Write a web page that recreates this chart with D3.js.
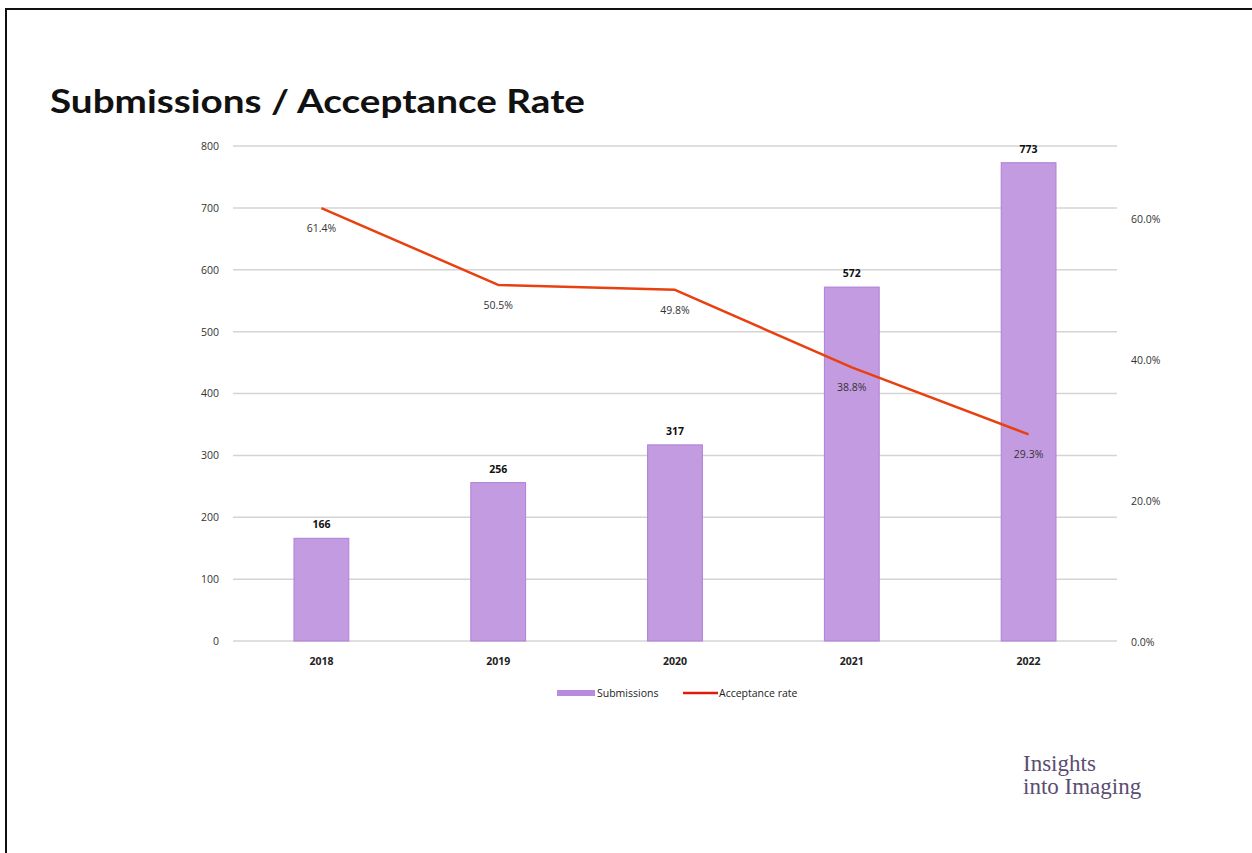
<!DOCTYPE html>
<html><head><meta charset="utf-8">
<script src="https://cdn.jsdelivr.net/npm/d3@7"></script>
<style>
html,body{margin:0;padding:0;background:#fff;}
svg{display:block;}
</style></head>
<body>
<svg id="chart" width="1252" height="853"></svg>
<script>
const years = ["2018","2019","2020","2021","2022"];
const submissions = [166, 256, 317, 572, 773];
const acceptanceRate = [61.4, 50.5, 49.8, 38.8, 29.3];
const leftTicks = [0,100,200,300,400,500,600,700,800];
const rightTicks = [0,20,40,60];
const title = "Submissions / Acceptance Rate";
const legendLabels = ["Submissions","Acceptance rate"];
const logoLines = ["Insights","into Imaging"];

(function(){
const svg = d3.select("#chart");
const pLeft = 233, pRight = 1117, pTop = 146, pBottom = 641;

// frame
svg.append("line").attr("x1",5).attr("x2",1252).attr("y1",9).attr("y2",9).attr("stroke","#111").attr("stroke-width",2);
svg.append("line").attr("x1",6).attr("x2",6).attr("y1",8).attr("y2",853).attr("stroke","#111").attr("stroke-width",2);

svg.append("text").attr("x",50).attr("y",113).text(title)
  .attr("font-family","Lato, sans-serif").attr("font-weight","700").attr("font-size",33)
  .attr("fill","#111").attr("textLength",535).attr("lengthAdjust","spacingAndGlyphs");

const x = d3.scaleBand().domain(years).range([pLeft,pRight]).paddingInner(0.69).paddingOuter(0.345);
const y = d3.scaleLinear().domain([0,800]).range([pBottom,pTop]);
const y2 = d3.scaleLinear().domain([0,70.2]).range([pBottom,pTop]);

// gridlines
svg.append("g").selectAll("line").data(leftTicks).join("line")
  .attr("x1",pLeft).attr("x2",pRight).attr("y1",d=>y(d)).attr("y2",d=>y(d))
  .attr("stroke","#d4d4d4").attr("stroke-width",1.5);

// left axis
const ga = svg.append("g").attr("transform",`translate(${pLeft},0)`)
  .call(d3.axisLeft(y).tickValues(leftTicks).tickSize(0).tickPadding(14));
ga.select(".domain").remove();
ga.selectAll("text").attr("font-family","Open Sans, sans-serif").attr("font-size",10.5).attr("fill","#333");

// right axis
const gr = svg.append("g").attr("transform",`translate(${pRight},0)`)
  .call(d3.axisRight(y2).tickValues(rightTicks).tickSize(0).tickPadding(14).tickFormat(d=>d.toFixed(1)+"%"));
gr.select(".domain").remove();
gr.selectAll("text").attr("font-family","Open Sans, sans-serif").attr("font-size",10.5).attr("fill","#333").attr("dy","0.42em");

// x axis labels
const gx = svg.append("g").attr("transform",`translate(0,${pBottom})`)
  .call(d3.axisBottom(x).tickSize(0).tickPadding(17));
gx.select(".domain").remove();
gx.selectAll("text").attr("font-family","Open Sans, sans-serif").attr("font-size",10.5).attr("font-weight","700").attr("fill","#222");

// bars
const data = years.map((yr,i)=>({yr, s:submissions[i], r:acceptanceRate[i]}));
svg.append("g").selectAll("rect").data(data).join("rect")
  .attr("x",d=>x(d.yr)).attr("width",x.bandwidth())
  .attr("y",d=>y(d.s)).attr("height",d=>pBottom-y(d.s))
  .attr("fill","#c39be0").attr("stroke","#b07fd8").attr("stroke-width",1);

svg.append("g").selectAll("text").data(data).join("text")
  .attr("x",d=>x(d.yr)+x.bandwidth()/2).attr("y",d=>y(d.s)-10)
  .attr("text-anchor","middle").text(d=>d.s)
  .attr("font-family","Open Sans, sans-serif").attr("font-size",10.5).attr("font-weight","700").attr("fill","#111");

// line
const line = d3.line().x(d=>x(d.yr)+x.bandwidth()/2).y(d=>y2(d.r));
svg.append("path").datum(data).attr("d",line).attr("fill","none")
  .attr("stroke","#e8400f").attr("stroke-width",2.5).attr("stroke-linejoin","round");

svg.append("g").selectAll("text").data(data).join("text")
  .attr("x",d=>x(d.yr)+x.bandwidth()/2).attr("y",d=>y2(d.r)+24)
  .attr("text-anchor","middle").text(d=>d.r.toFixed(1)+"%")
  .attr("font-family","Open Sans, sans-serif").attr("font-size",10.5).attr("fill","#333");

// legend
const lg = svg.append("g");
lg.append("rect").attr("x",557).attr("y",690).attr("width",38).attr("height",6).attr("fill","#b98bdf");
lg.append("text").attr("x",597).attr("y",697).text(legendLabels[0])
  .attr("font-family","Open Sans, sans-serif").attr("font-size",10.5).attr("fill","#222");
lg.append("line").attr("x1",683).attr("x2",718).attr("y1",693).attr("y2",693).attr("stroke","#e01b0c").attr("stroke-width",2.5);
lg.append("text").attr("x",719).attr("y",697).text(legendLabels[1])
  .attr("font-family","Open Sans, sans-serif").attr("font-size",10.5).attr("fill","#222");

// logo
svg.append("g").selectAll("text").data(logoLines).join("text")
  .attr("x",1023).attr("y",(d,i)=>771+i*23).text(d=>d)
  .attr("font-family","Liberation Serif, serif").attr("font-size",23).attr("fill","#5b4d70");
})();
</script>
</body></html>
